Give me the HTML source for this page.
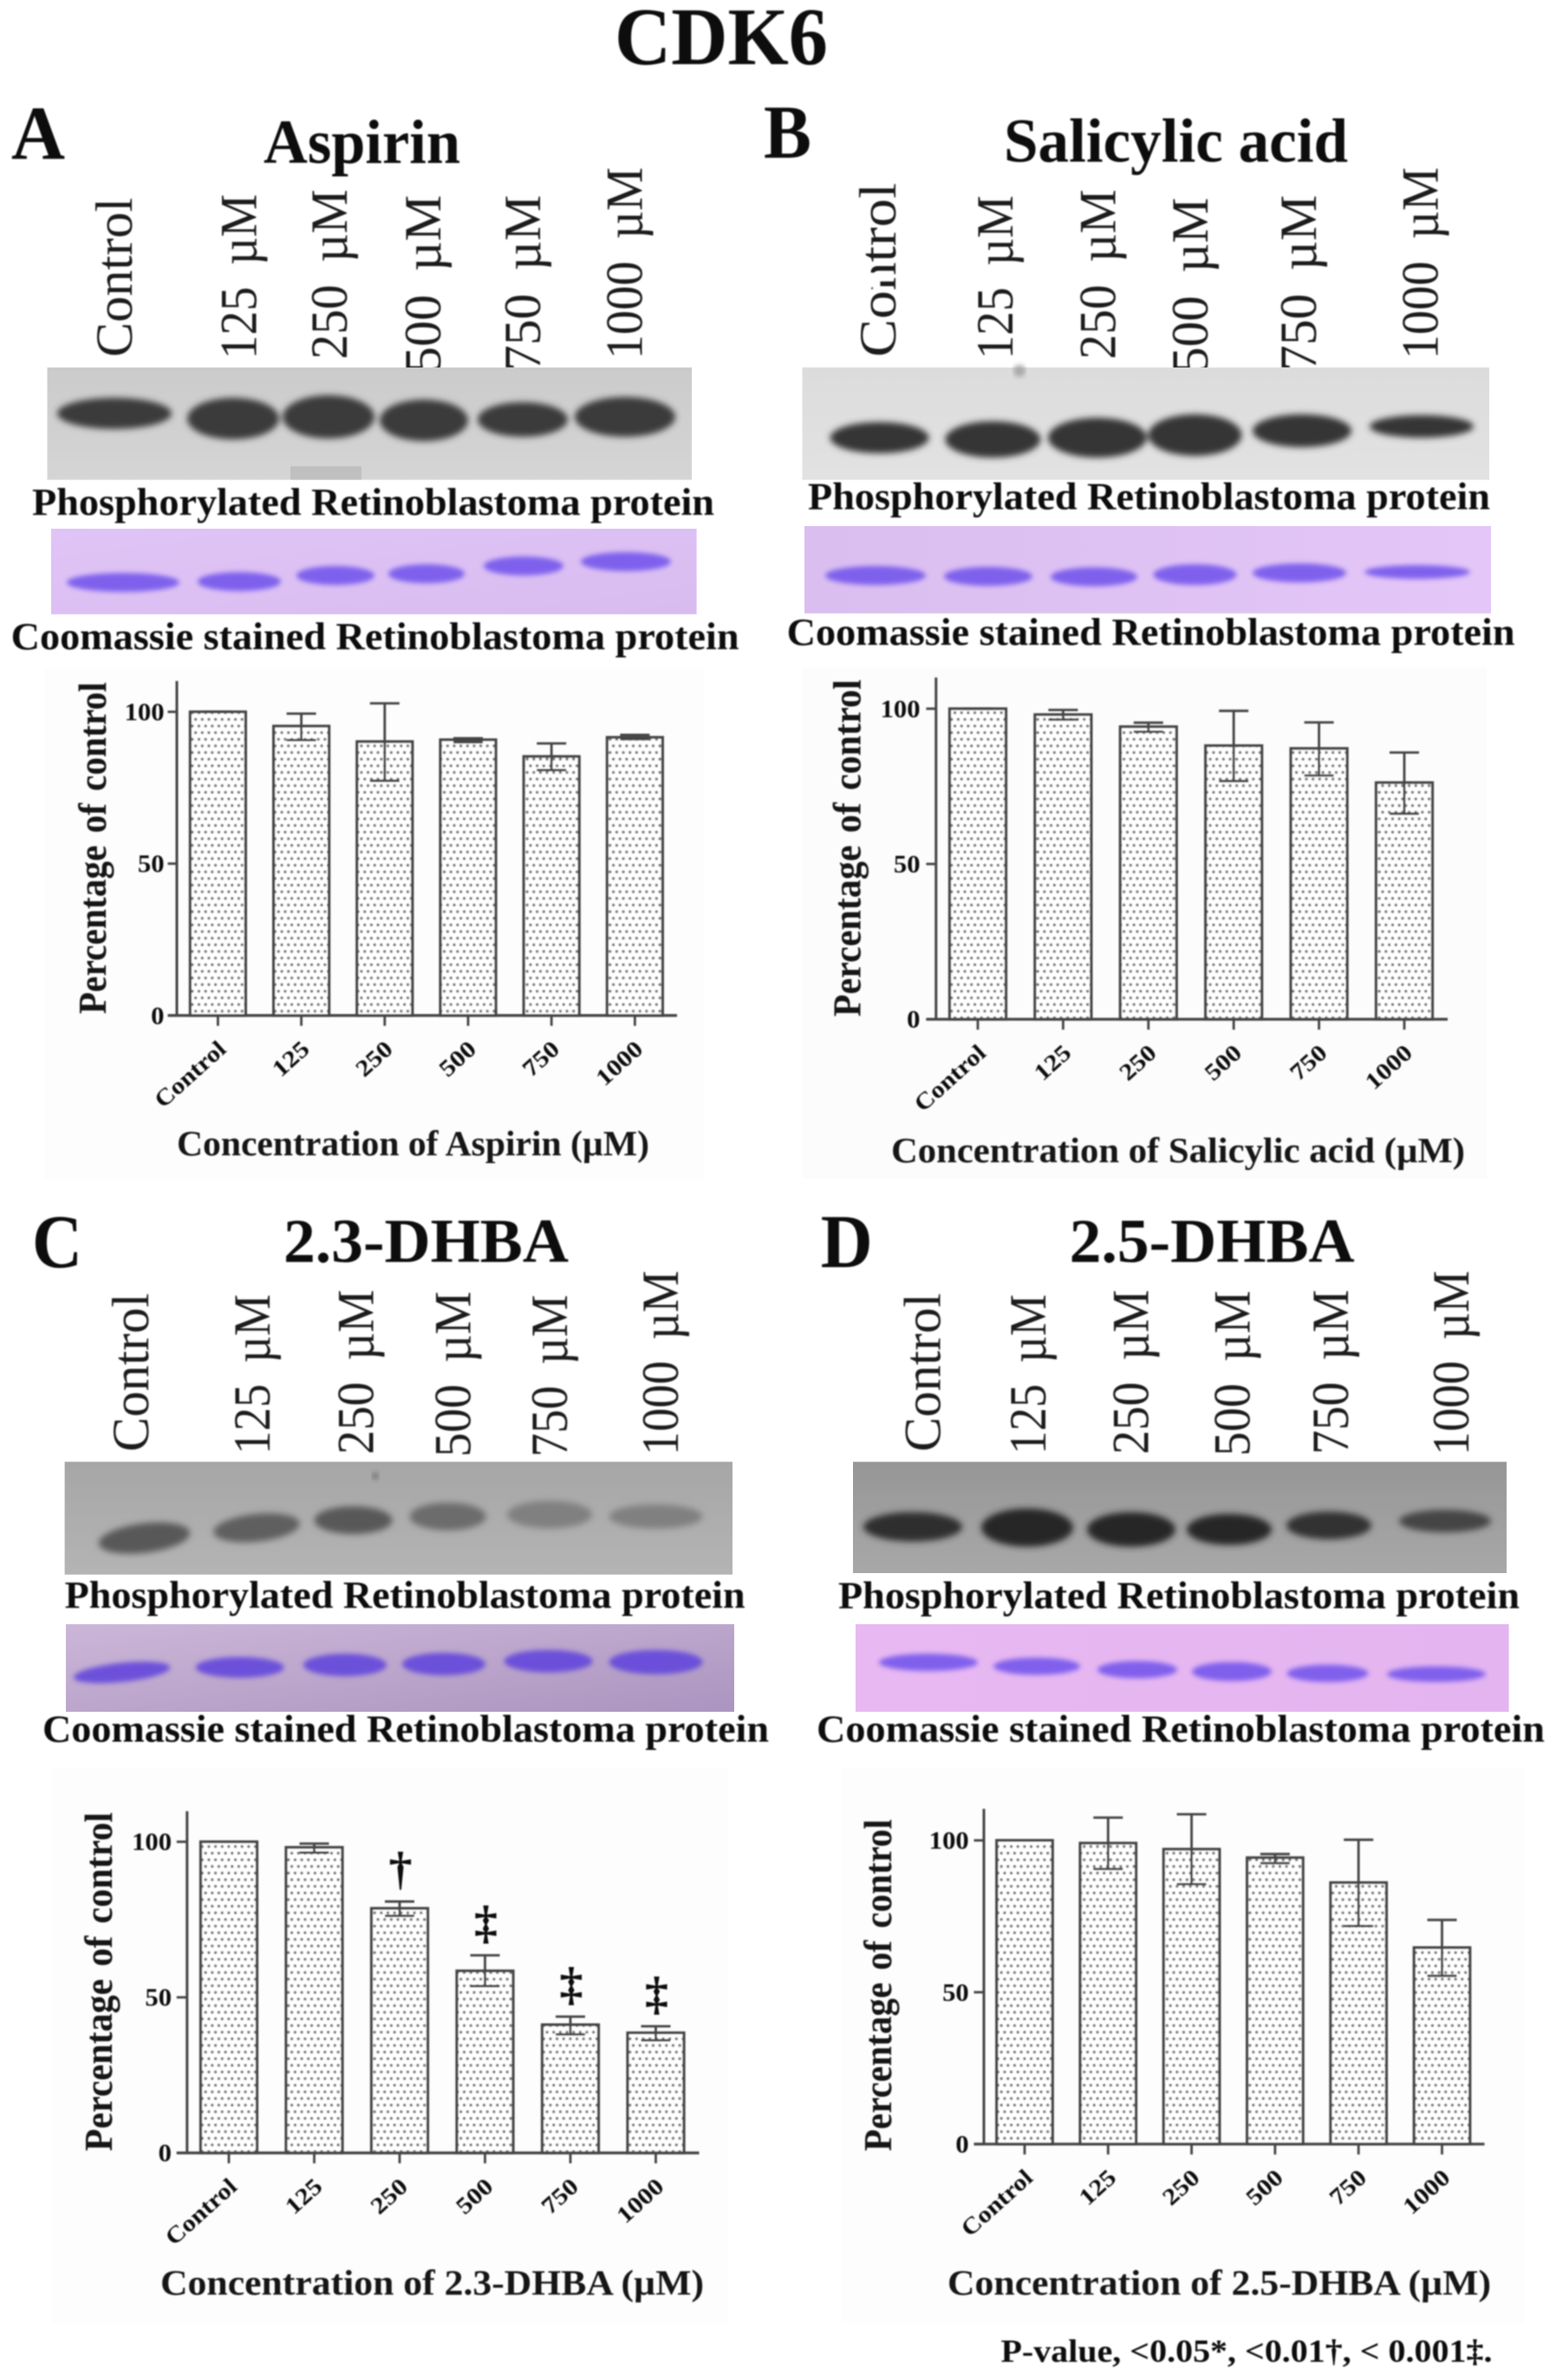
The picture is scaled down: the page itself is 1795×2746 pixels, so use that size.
<!DOCTYPE html>
<html lang="en">
<head>
<meta charset="utf-8">
<title>CDK6 retinoblastoma phosphorylation panels</title>
<style>
html,body{margin:0;padding:0;background:#fff;}
svg{display:block;}
text{font-family:"Liberation Serif",serif;fill:#0c0c0c;}
.b{font-weight:700;}
.lane{fill:#1a1a1a;font-size:60px;word-spacing:12px;}
.cap{font-weight:700;font-size:44px;}
.axt{font-weight:700;font-size:41px;fill:#161616;}
.yt{font-weight:700;font-size:46px;fill:#161616;word-spacing:4px;}
.hd{font-weight:700;font-size:72px;}
.ltr{font-weight:700;font-size:88px;}
</style>
</head>
<body>
<svg id="figure" xmlns="http://www.w3.org/2000/svg" width="1795" height="2746" viewBox="0 0 1795 2746">
<defs>
<pattern id="dots" patternUnits="userSpaceOnUse" width="15.3" height="15.3">
<rect width="15.3" height="15.3" fill="#fff"/>
<circle cx="3.8" cy="3.8" r="1.7" fill="#777"/>
<circle cx="11.45" cy="3.8" r="1.7" fill="#777"/>
<circle cx="0" cy="11.45" r="1.7" fill="#777"/>
<circle cx="7.65" cy="11.45" r="1.7" fill="#777"/>
<circle cx="15.3" cy="11.45" r="1.7" fill="#777"/>
</pattern>
<filter id="soft" x="-5%" y="-5%" width="110%" height="110%"><feGaussianBlur stdDeviation="0.7"/></filter>
<filter id="band" x="-10%" y="-60%" width="120%" height="220%"><feGaussianBlur stdDeviation="3.6"/></filter>
<filter id="bandThin" x="-10%" y="-60%" width="120%" height="220%"><feGaussianBlur stdDeviation="2.8"/></filter>
<linearGradient id="gA" x1="0" y1="0" x2="0" y2="1"><stop offset="0" stop-color="#cbcbcb"/><stop offset="1" stop-color="#d5d5d5"/></linearGradient>
<linearGradient id="gB" x1="0" y1="0" x2="0" y2="1"><stop offset="0" stop-color="#dcdcdc"/><stop offset="1" stop-color="#e2e2e2"/></linearGradient>
<linearGradient id="gC" x1="0" y1="0" x2="0" y2="1"><stop offset="0" stop-color="#a6a6a6"/><stop offset="1" stop-color="#b4b4b4"/></linearGradient>
<linearGradient id="gD" x1="0" y1="0" x2="0" y2="1"><stop offset="0" stop-color="#969696"/><stop offset="1" stop-color="#a8a8a8"/></linearGradient>
<linearGradient id="cA" x1="0" y1="0" x2="1" y2="1"><stop offset="0" stop-color="#e0c4f6"/><stop offset="1" stop-color="#d8bcf0"/></linearGradient>
<linearGradient id="cB" x1="0" y1="0" x2="1" y2="0"><stop offset="0" stop-color="#dabef0"/><stop offset="1" stop-color="#e4c6f8"/></linearGradient>
<linearGradient id="cC" x1="0" y1="0" x2="1" y2="1"><stop offset="0" stop-color="#ccb6d8"/><stop offset="1" stop-color="#ab95bf"/></linearGradient>
<linearGradient id="cD" x1="0" y1="0" x2="1" y2="0"><stop offset="0" stop-color="#e8b8f2"/><stop offset="1" stop-color="#e4b4f0"/></linearGradient>
</defs>

<rect width="1795" height="2746" fill="#fff"/>
<rect x="52" y="770" width="760" height="590" fill="#fdfdfd"/>
<rect x="925" y="770" width="790" height="590" fill="#fcfcfc"/>
<rect x="60" y="2040" width="780" height="640" fill="#fdfdfd"/>
<rect x="970" y="2040" width="790" height="640" fill="#fdfdfd"/>

<g filter="url(#soft)">
<text class="b" x="709" y="74" font-size="94" textLength="246" lengthAdjust="spacingAndGlyphs">CDK6</text>

<text class="ltr" x="13" y="183" textLength="62" lengthAdjust="spacingAndGlyphs">A</text>
<text class="hd" x="304" y="188" textLength="227" lengthAdjust="spacingAndGlyphs">Aspirin</text>
<text class="lane" transform="rotate(-90 152 412)" x="152" y="412" textLength="184" lengthAdjust="spacingAndGlyphs">Control</text>
<text class="lane" transform="rotate(-90 295.6 414.5)" x="295.6" y="414.5" textLength="190.5" lengthAdjust="spacingAndGlyphs">125 µM</text>
<text class="lane" transform="rotate(-90 400 414.5)" x="400" y="414.5" textLength="196" lengthAdjust="spacingAndGlyphs">250 µM</text>
<text class="lane" transform="rotate(-90 508 430)" x="508" y="430" textLength="205" lengthAdjust="spacingAndGlyphs">500 µM</text>
<text class="lane" transform="rotate(-90 623 428)" x="623" y="428" textLength="203" lengthAdjust="spacingAndGlyphs">750 µM</text>
<text class="lane" transform="rotate(-90 740.5 414.5)" x="740.5" y="414.5" textLength="221.5" lengthAdjust="spacingAndGlyphs">1000 µM</text>

<text class="ltr" x="881" y="182" textLength="55" lengthAdjust="spacingAndGlyphs">B</text>
<text class="hd" x="1158" y="186.6" textLength="397" lengthAdjust="spacingAndGlyphs">Salicylic acid</text>
<text class="lane" transform="rotate(-90 1033 412)" x="1033" y="412" textLength="201" lengthAdjust="spacingAndGlyphs">Control</text>
<rect x="1000" y="315" width="15" height="16" fill="#fff"/>
<text class="lane" transform="rotate(-90 1168 414.5)" x="1168" y="414.5" textLength="189" lengthAdjust="spacingAndGlyphs">125 µM</text>
<text class="lane" transform="rotate(-90 1286.5 414.5)" x="1286.5" y="414.5" textLength="196" lengthAdjust="spacingAndGlyphs">250 µM</text>
<text class="lane" transform="rotate(-90 1393 430)" x="1393" y="430" textLength="202" lengthAdjust="spacingAndGlyphs">500 µM</text>
<text class="lane" transform="rotate(-90 1518 428)" x="1518" y="428" textLength="203" lengthAdjust="spacingAndGlyphs">750 µM</text>
<text class="lane" transform="rotate(-90 1658.5 414.5)" x="1658.5" y="414.5" textLength="221.5" lengthAdjust="spacingAndGlyphs">1000 µM</text>

<text class="ltr" x="37" y="1462" textLength="58" lengthAdjust="spacingAndGlyphs">C</text>
<text class="hd" x="327" y="1456" textLength="329" lengthAdjust="spacingAndGlyphs">2.3-DHBA</text>
<text class="lane" transform="rotate(-90 171 1675)" x="171" y="1675" textLength="183" lengthAdjust="spacingAndGlyphs">Control</text>
<text class="lane" transform="rotate(-90 311 1678)" x="311" y="1678" textLength="184.7" lengthAdjust="spacingAndGlyphs">125 µM</text>
<text class="lane" transform="rotate(-90 430.5 1678)" x="430.5" y="1678" textLength="190" lengthAdjust="spacingAndGlyphs">250 µM</text>
<text class="lane" transform="rotate(-90 542.5 1681)" x="542.5" y="1681" textLength="191" lengthAdjust="spacingAndGlyphs">500 µM</text>
<text class="lane" transform="rotate(-90 654 1681)" x="654" y="1681" textLength="187" lengthAdjust="spacingAndGlyphs">750 µM</text>
<text class="lane" transform="rotate(-90 782 1679)" x="782" y="1679" textLength="213" lengthAdjust="spacingAndGlyphs">1000 µM</text>

<text class="ltr" x="946.7" y="1462" textLength="60" lengthAdjust="spacingAndGlyphs">D</text>
<text class="hd" x="1233.7" y="1456" textLength="329" lengthAdjust="spacingAndGlyphs">2.5-DHBA</text>
<text class="lane" transform="rotate(-90 1084.4 1675)" x="1084.4" y="1675" textLength="183" lengthAdjust="spacingAndGlyphs">Control</text>
<text class="lane" transform="rotate(-90 1206 1678)" x="1206" y="1678" textLength="184.7" lengthAdjust="spacingAndGlyphs">125 µM</text>
<text class="lane" transform="rotate(-90 1324.4 1678)" x="1324.4" y="1678" textLength="190" lengthAdjust="spacingAndGlyphs">250 µM</text>
<text class="lane" transform="rotate(-90 1441.5 1680)" x="1441.5" y="1680" textLength="191" lengthAdjust="spacingAndGlyphs">500 µM</text>
<text class="lane" transform="rotate(-90 1555 1678)" x="1555" y="1678" textLength="190" lengthAdjust="spacingAndGlyphs">750 µM</text>
<text class="lane" transform="rotate(-90 1694 1679)" x="1694" y="1679" textLength="213" lengthAdjust="spacingAndGlyphs">1000 µM</text>
</g>

<!-- Panel A blots -->
<g>
<rect x="54.5" y="424" width="743.5" height="129.6" fill="url(#gA)"/>
<rect x="335" y="538" width="82" height="15.6" fill="#b6b6b6" opacity=".7"/>
<g fill="#3a3a3a" filter="url(#band)">
<ellipse cx="132" cy="477" rx="66" ry="18"/>
<ellipse cx="269" cy="483" rx="53" ry="24"/>
<ellipse cx="379" cy="481" rx="53" ry="25"/>
<ellipse cx="489" cy="485" rx="51" ry="24"/>
<ellipse cx="603" cy="484" rx="52" ry="20"/>
<ellipse cx="721" cy="481" rx="58" ry="23"/>
</g>
</g>
<g>
<rect x="59" y="610" width="744.6" height="98.7" fill="url(#cA)"/>
<g fill="#7557ec" opacity=".9" filter="url(#bandThin)">
<ellipse cx="142" cy="672" rx="65" ry="11"/>
<ellipse cx="276" cy="671" rx="48" ry="11"/>
<ellipse cx="387" cy="664" rx="45" ry="11"/>
<ellipse cx="492" cy="662" rx="44" ry="11"/>
<ellipse cx="604" cy="653" rx="46" ry="11"/>
<ellipse cx="722" cy="648" rx="52" ry="11"/>
</g>
</g>

<!-- Panel B blots -->
<g>
<rect x="925.5" y="424" width="792.5" height="129.6" fill="url(#gB)"/>
<circle cx="1176" cy="428" r="7" fill="#aaa" filter="url(#bandThin)"/>
<g fill="#363636" filter="url(#band)">
<ellipse cx="1014.6" cy="505" rx="57" ry="18"/>
<ellipse cx="1145.4" cy="507" rx="55" ry="21"/>
<ellipse cx="1266" cy="505" rx="57" ry="23"/>
<ellipse cx="1378.5" cy="502" rx="54" ry="24"/>
<ellipse cx="1502" cy="497" rx="57" ry="19"/>
<ellipse cx="1640" cy="492" rx="60" ry="13"/>
</g>
</g>
<g>
<rect x="928" y="607" width="792" height="100.7" fill="url(#cB)"/>
<g fill="#7557ec" opacity=".9" filter="url(#bandThin)">
<ellipse cx="1010" cy="664" rx="58" ry="11"/>
<ellipse cx="1140" cy="665" rx="51" ry="11"/>
<ellipse cx="1262" cy="665.5" rx="50" ry="11"/>
<ellipse cx="1378.5" cy="663" rx="48" ry="12"/>
<ellipse cx="1499" cy="661" rx="54" ry="11"/>
<ellipse cx="1635" cy="660" rx="61" ry="8"/>
</g>
</g>

<!-- Panel C blots -->
<g>
<rect x="74.6" y="1686.6" width="770.4" height="130.1" fill="url(#gC)"/>
<circle cx="433" cy="1703" r="4" fill="#777" filter="url(#bandThin)"/>
<g filter="url(#band)">
<ellipse cx="166.5" cy="1774.6" rx="53" ry="17" transform="rotate(-7 166.5 1774.6)" fill="#585858"/>
<ellipse cx="296" cy="1762.7" rx="50" ry="16" transform="rotate(-6 296 1762.7)" fill="#5e5e5e"/>
<ellipse cx="407.6" cy="1754" rx="45" ry="16" fill="#585858"/>
<ellipse cx="516.6" cy="1749.7" rx="44" ry="16" fill="#6c6c6c"/>
<ellipse cx="634" cy="1747.5" rx="49" ry="16" fill="#808080"/>
<ellipse cx="756.6" cy="1749.7" rx="54" ry="14" fill="#808080"/>
</g>
</g>
<g>
<rect x="76" y="1874" width="771" height="101" fill="url(#cC)"/>
<g fill="#6446dc" opacity=".9" filter="url(#bandThin)">
<ellipse cx="140.6" cy="1929.6" rx="56" ry="11" transform="rotate(-6 140.6 1929.6)"/>
<ellipse cx="276.7" cy="1923.8" rx="51" ry="12"/>
<ellipse cx="398" cy="1921" rx="48" ry="13"/>
<ellipse cx="512" cy="1920" rx="48" ry="13"/>
<ellipse cx="632.6" cy="1916.6" rx="51" ry="13"/>
<ellipse cx="756.6" cy="1917.7" rx="54" ry="14"/>
</g>
</g>

<!-- Panel D blots -->
<g>
<rect x="984" y="1686.6" width="754" height="128.4" fill="url(#gD)"/>
<g filter="url(#band)">
<ellipse cx="1053" cy="1761.6" rx="57" ry="17" fill="#2e2e2e"/>
<ellipse cx="1185" cy="1762.5" rx="53" ry="22" fill="#262626"/>
<ellipse cx="1305" cy="1764.6" rx="51" ry="20" fill="#262626"/>
<ellipse cx="1418" cy="1764.6" rx="49" ry="18" fill="#282828"/>
<ellipse cx="1533" cy="1760" rx="49" ry="16" fill="#303030"/>
<ellipse cx="1667" cy="1755" rx="53" ry="13" fill="#444"/>
</g>
</g>
<g>
<rect x="987" y="1874" width="753.6" height="101" fill="url(#cD)"/>
<g fill="#7557ec" opacity=".9" filter="url(#bandThin)">
<ellipse cx="1071" cy="1918" rx="57" ry="10"/>
<ellipse cx="1196" cy="1922.5" rx="50" ry="10"/>
<ellipse cx="1312" cy="1926.4" rx="46" ry="10"/>
<ellipse cx="1421" cy="1928.6" rx="46" ry="11"/>
<ellipse cx="1531.6" cy="1930.7" rx="47" ry="10"/>
<ellipse cx="1657" cy="1931.6" rx="57" ry="9"/>
</g>
</g>

<g filter="url(#soft)">
<text class="cap" x="37" y="594" textLength="787" lengthAdjust="spacingAndGlyphs">Phosphorylated Retinoblastoma protein</text>
<text class="cap" x="12.6" y="749" textLength="840" lengthAdjust="spacingAndGlyphs">Coomassie stained Retinoblastoma protein</text>
<text class="cap" x="932" y="587.5" textLength="787" lengthAdjust="spacingAndGlyphs">Phosphorylated Retinoblastoma protein</text>
<text class="cap" x="907.6" y="744" textLength="840" lengthAdjust="spacingAndGlyphs">Coomassie stained Retinoblastoma protein</text>
<text class="cap" x="74.6" y="1855" textLength="785" lengthAdjust="spacingAndGlyphs">Phosphorylated Retinoblastoma protein</text>
<text class="cap" x="49" y="2009.7" textLength="838" lengthAdjust="spacingAndGlyphs">Coomassie stained Retinoblastoma protein</text>
<text class="cap" x="967" y="1855.7" textLength="786" lengthAdjust="spacingAndGlyphs">Phosphorylated Retinoblastoma protein</text>
<text class="cap" x="942" y="2009.7" textLength="840" lengthAdjust="spacingAndGlyphs">Coomassie stained Retinoblastoma protein</text>

<text class="yt" transform="rotate(-90 122 1170)" x="122" y="1170" textLength="383" lengthAdjust="spacingAndGlyphs">Percentage of control</text>
<text class="yt" transform="rotate(-90 992.6 1173)" x="992.6" y="1173" textLength="389" lengthAdjust="spacingAndGlyphs">Percentage of control</text>
<text class="yt" transform="rotate(-90 129 2482)" x="129" y="2482" textLength="391" lengthAdjust="spacingAndGlyphs">Percentage of control</text>
<text class="yt" transform="rotate(-90 1028 2482)" x="1028" y="2482" textLength="383" lengthAdjust="spacingAndGlyphs">Percentage of control</text>

<text class="axt" x="204" y="1333" textLength="545" lengthAdjust="spacingAndGlyphs">Concentration of Aspirin (µM)</text>
<text class="axt" x="1028" y="1341" textLength="662" lengthAdjust="spacingAndGlyphs">Concentration of Salicylic acid (µM)</text>
<text class="axt" x="185" y="2647.5" textLength="627" lengthAdjust="spacingAndGlyphs">Concentration of 2.3-DHBA (µM)</text>
<text class="axt" x="1093" y="2647.5" textLength="627" lengthAdjust="spacingAndGlyphs">Concentration of 2.5-DHBA (µM)</text>

<text class="b" x="1154.5" y="2725" font-size="37" textLength="567" lengthAdjust="spacingAndGlyphs">P-value, &lt;0.05*, &lt;0.01†, &lt; 0.001‡.</text>
</g>

<g id="charts" filter="url(#soft)"></g>
</svg>

<script>
const categories = ['Control', '125', '250', '500', '750', '1000'];
const yTickValues = [0, 50, 100];

const aspirinValues = [100, 95.3, 90.2, 90.8, 85.3, 91.6];
const aspirinUpper = [100, 99.4, 102.8, 91.3, 89.6, 92.4];
const aspirinLower = [100, 90.7, 77.3, 90, 80.8, 91];

const salicylicValues = [100, 98.1, 94.2, 88.1, 87.2, 76.2];
const salicylicUpper = [100, 99.6, 95.5, 99.3, 95.6, 85.9];
const salicylicLower = [100, 96.5, 92.6, 76.7, 78.5, 66.2];

const dhba23Values = [100, 98.2, 78.6, 58.5, 41.2, 38.6];
const dhba23Upper = [100, 99.4, 80.8, 63.5, 43.8, 40.7];
const dhba23Lower = [100, 96.5, 76.2, 53.6, 38.1, 36.2];
const dhba23Marks = ['', '', '†', '‡', '‡', '‡'];

const dhba25Values = [100, 99.1, 97.1, 94.3, 86.1, 64.7];
const dhba25Upper = [100, 107.5, 108.6, 95.5, 100.2, 73.8];
const dhba25Lower = [100, 90.6, 85.6, 92.5, 71.8, 55.4];

const SVG_NS = 'http://www.w3.org/2000/svg';
const root = document.getElementById('charts');

function mk(tag, attrs, parent) {
  const el = document.createElementNS(SVG_NS, tag);
  for (const k in attrs) el.setAttribute(k, attrs[k]);
  parent.appendChild(el);
  return el;
}

function drawChart(p) {
  const yScale = v => p.y0 + (p.y100 - p.y0) * v / 100;
  const xScale = i => p.firstCenter + p.step * i;
  const AXIS = '#444';

  const g = mk('g', {}, root);
  
  

  p.values.forEach((v, i) => {
    const cx = xScale(i);
    const bar = mk('rect', {
      x: cx - p.barWidth / 2, y: yScale(v), width: p.barWidth, height: p.y0 - yScale(v),
      fill: 'url(#dots)', stroke: AXIS, 'stroke-width': 3.2
    }, g);
    
    
  });

  p.values.forEach((v, i) => {
    const cx = xScale(i);
    const yU = yScale(p.upper[i]);
    const yL = yScale(p.lower[i]);
    const stem = mk('line', { x1: cx, x2: cx, y1: yU, y2: yL, stroke: AXIS, 'stroke-width': 2.8 }, g);
    
    
    const capTop = mk('line', { x1: cx - 17, x2: cx + 17, y1: yU, y2: yU, stroke: AXIS, 'stroke-width': 2.8 }, g);
    
    
    const capLow = mk('line', { x1: cx - 17, x2: cx + 17, y1: yL, y2: yL, stroke: AXIS, 'stroke-width': 2.8 }, g);
    
    
    if (p.marks && p.marks[i]) {
      const mark = mk('text', {
        x: cx + p.markShift, y: yU - 20, 'text-anchor': 'middle', 'font-size': 54, 'font-weight': 700
      }, g);
      mark.textContent = p.marks[i];
      
      
    }
  });

  const yAxis = mk('line', { x1: p.axisX, x2: p.axisX, y1: p.axisTop, y2: p.y0, stroke: AXIS, 'stroke-width': 3 }, g);
  
  
  const xAxis = mk('line', { x1: p.xStart, x2: p.xEnd, y1: p.y0, y2: p.y0, stroke: AXIS, 'stroke-width': 3.2 }, g);
  
  

  yTickValues.forEach(t => {
    const y = yScale(t);
    const tick = mk('line', { x1: p.xStart, x2: p.axisX, y1: y, y2: y, stroke: AXIS, 'stroke-width': 2.8 }, g);
    
    
    const label = mk('text', {
      x: p.labelRight, y: y + 9.7, 'text-anchor': 'end', 'font-size': 28, 'font-weight': 700,
      textLength: String(t).length * 15.3, lengthAdjust: 'spacingAndGlyphs', fill: '#222'
    }, g);
    label.textContent = t;
    
    
  });

  categories.forEach((c, i) => {
    const cx = xScale(i);
    const tick = mk('line', { x1: cx, x2: cx, y1: p.y0, y2: p.y0 + 12, stroke: AXIS, 'stroke-width': 2.8 }, g);
    
    
    const lx = cx + 11;
    const ly = p.y0 + 41;
    const label = mk('text', {
      x: lx, y: ly, 'text-anchor': 'end', 'font-size': 27, 'font-weight': 700,
      textLength: c === 'Control' ? 100 : c.length * 15.5, lengthAdjust: 'spacingAndGlyphs',
      transform: 'rotate(-42 ' + lx + ' ' + ly + ')', fill: '#222'
    }, g);
    label.textContent = c;
    
    
  });
}

drawChart({ id: 'aspirin', values: aspirinValues, upper: aspirinUpper, lower: aspirinLower,
  axisX: 204, axisTop: 785.7, y100: 821.3, y0: 1171.6, xStart: 193.5, xEnd: 781,
  firstCenter: 251.4, step: 96.2, barWidth: 64, labelRight: 189.5 });
drawChart({ id: 'salicylic-acid', values: salicylicValues, upper: salicylicUpper, lower: salicylicLower,
  axisX: 1079.8, axisTop: 781.7, y100: 817.7, y0: 1176, xStart: 1068.4, xEnd: 1670,
  firstCenter: 1128, step: 98.4, barWidth: 65, labelRight: 1061.5 });
drawChart({ id: 'dhba-2-3', values: dhba23Values, upper: dhba23Upper, lower: dhba23Lower, marks: dhba23Marks, markShift: 1,
  axisX: 215.8, axisTop: 2089.7, y100: 2125, y0: 2484, xStart: 203.8, xEnd: 806.5,
  firstCenter: 264, step: 98.5, barWidth: 65, labelRight: 198 });
drawChart({ id: 'dhba-2-5', values: dhba25Values, upper: dhba25Upper, lower: dhba25Lower,
  axisX: 1135, axisTop: 2087, y100: 2123.4, y0: 2473.8, xStart: 1123.5, xEnd: 1712.5,
  firstCenter: 1182, step: 96.3, barWidth: 64.5, labelRight: 1117.7 });
</script>
</body>
</html>
